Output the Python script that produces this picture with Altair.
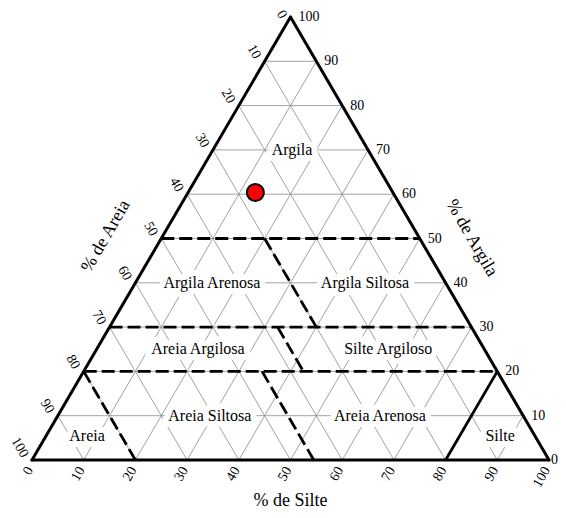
import altair as alt
import pandas as pd

# ---- data ----
GRID_STEPS = [10, 20, 30, 40, 50, 60, 70, 80, 90]
TICK_VALUES = [0, 10, 20, 30, 40, 50, 60, 70, 80, 90, 100]

# dashed class boundaries: start (silt, clay) -> end (silt, clay)
DASH_SILT_A = [0, 0, 0, 20, 32.5, 34.5, 0]
DASH_CLAY_A = [50, 30, 20, 50, 30, 20, 20]
DASH_SILT_B = [50, 70, 80, 40, 42.5, 54.5, 20]
DASH_CLAY_B = [50, 30, 20, 30, 20, 0, 0]

# solid class boundary
SOLID_SILT_A = [80]
SOLID_CLAY_A = [0]
SOLID_SILT_B = [80]
SOLID_CLAY_B = [20]

CLASS_NAMES = ["Argila", "Argila Arenosa", "Argila Siltosa", "Areia Argilosa",
               "Silte Argiloso", "Areia Siltosa", "Areia Arenosa", "Areia", "Silte"]
CLASS_SILT = [15.3, 14.8, 44.4, 19.6, 56.4, 29.4, 62.3, 7.9, 87.8]
CLASS_CLAY = [70, 40, 40, 25, 25, 10, 10, 5.5, 5.5]

SAMPLE_SILT = [13.0]
SAMPLE_CLAY = [60.4]

TITLE_SAND = "% de Areia"
TITLE_CLAY = "% de Argila"
TITLE_SILT = "% de Silte"

FONT = "Liberation Serif"


def tx(s, c):
    return s + c / 2.0


def seg_df(sa, ca, sb, cb):
    return pd.DataFrame({
        "x": [tx(s, c) for s, c in zip(sa, ca)],
        "y": list(ca),
        "x2": [tx(s, c) for s, c in zip(sb, cb)],
        "y2": list(cb),
    })


# grid segments
g_sa, g_ca, g_sb, g_cb = [], [], [], []
for k in GRID_STEPS:
    g_sa += [0, k, 100 - k]
    g_ca += [k, 0, 0]
    g_sb += [100 - k, k, 0]
    g_cb += [k, 100 - k, 100 - k]
grid_df = seg_df(g_sa, g_ca, g_sb, g_cb)

outline_df = seg_df([0, 100, 0], [0, 0, 100], [100, 0, 0], [0, 100, 0])
dash_df = seg_df(DASH_SILT_A, DASH_CLAY_A, DASH_SILT_B, DASH_CLAY_B)
solid_df = seg_df(SOLID_SILT_A, SOLID_CLAY_A, SOLID_SILT_B, SOLID_CLAY_B)

class_df = pd.DataFrame({
    "x": [tx(s, c) for s, c in zip(CLASS_SILT, CLASS_CLAY)],
    "y": CLASS_CLAY,
    "t": CLASS_NAMES,
})
sample_df = pd.DataFrame({
    "x": [tx(s, c) for s, c in zip(SAMPLE_SILT, SAMPLE_CLAY)],
    "y": SAMPLE_CLAY,
})

left_df = pd.DataFrame({
    "x": [tx(0, 100 - v) for v in TICK_VALUES],
    "y": [100 - v for v in TICK_VALUES],
    "t": [str(v) for v in TICK_VALUES],
})
bottom_df = pd.DataFrame({
    "x": [tx(v, 0) for v in TICK_VALUES],
    "y": [0 for v in TICK_VALUES],
    "t": [str(v) for v in TICK_VALUES],
})
right_df = pd.DataFrame({
    "x": [tx(100 - v, v) for v in TICK_VALUES],
    "y": TICK_VALUES,
    "t": [str(v) for v in TICK_VALUES],
})

sc = alt.Scale(domain=[0, 100], nice=False, zero=False)
X = alt.X("x:Q", scale=sc, axis=None)
Y = alt.Y("y:Q", scale=sc, axis=None)


def rules(df, **kw):
    return alt.Chart(df).mark_rule(**kw).encode(x=X, y=Y, x2="x2:Q", y2="y2:Q")


grid = rules(grid_df, color="#8a8a8a", strokeWidth=0.8)

halo = alt.Chart(class_df).mark_text(
    font=FONT, fontSize=16, fill="white", stroke="white", strokeWidth=12,
    strokeJoin="round", baseline="middle"
).encode(x=X, y=Y, text="t:N")
labels = alt.Chart(class_df).mark_text(
    font=FONT, fontSize=16, color="black", baseline="middle"
).encode(x=X, y=Y, text="t:N")

dashed = rules(dash_df, color="black", strokeWidth=2.8, strokeDash=[13, 5])
solid = rules(solid_df, color="black", strokeWidth=2.8)
outline = rules(outline_df, color="black", strokeWidth=3, strokeCap="round")

sample = alt.Chart(sample_df).mark_point(
    shape="circle", size=290, filled=True, fill="#ff0000", stroke="black",
    strokeWidth=2, opacity=1
).encode(x=X, y=Y)

left_t = alt.Chart(left_df.iloc[1:]).mark_text(
    font=FONT, fontSize=14, angle=60, align="right", baseline="middle",
    dx=-6.5, dy=4.5, color="black"
).encode(x=X, y=Y, text="t:N")
left_top = alt.Chart(left_df.iloc[:1]).mark_text(
    font=FONT, fontSize=14, angle=60, align="right", baseline="middle",
    dx=-3.0, dy=6.5, color="black"
).encode(x=X, y=Y, text="t:N")
bottom_t = alt.Chart(bottom_df).mark_text(
    font=FONT, fontSize=14, angle=300, align="right", baseline="middle",
    dx=-7.9, dy=2.3, color="black"
).encode(x=X, y=Y, text="t:N")
right_t = alt.Chart(right_df.iloc[1:]).mark_text(
    font=FONT, fontSize=14, align="left", baseline="middle", dx=8, color="black"
).encode(x=X, y=Y, text="t:N")
right_zero = alt.Chart(right_df.iloc[:1]).mark_text(
    font=FONT, fontSize=14, align="left", baseline="middle", dx=2, color="black"
).encode(x=X, y=Y, text="t:N")

titles_df = pd.DataFrame({
    "x": [tx(0, 45), tx(55, 45), tx(50, 0)],
    "y": [45, 45, 0],
    "t": [TITLE_SAND, TITLE_CLAY, TITLE_SILT],
})
t_sand = alt.Chart(titles_df.iloc[[0]]).mark_text(
    font=FONT, fontSize=18, angle=300, align="center", baseline="middle", dy=-49
).encode(x=X, y=Y, text="t:N")
t_clay = alt.Chart(titles_df.iloc[[1]]).mark_text(
    font=FONT, fontSize=18, angle=60, align="center", baseline="middle", dy=-45
).encode(x=X, y=Y, text="t:N")
t_silt = alt.Chart(titles_df.iloc[[2]]).mark_text(
    font=FONT, fontSize=18, align="center", baseline="middle", dy=41
).encode(x=X, y=Y, text="t:N")

chart = alt.layer(
    grid, halo, dashed, solid, outline, labels, sample,
    left_t, left_top, bottom_t, right_t, right_zero, t_sand, t_clay, t_silt
).properties(
    width=517, height=443,
    autosize=alt.AutoSizeParams(type="none"),
    padding={"left": 24, "top": 9, "right": 9, "bottom": 50},
    background="white",
).configure_view(strokeWidth=0)

chart.save("out.html", embed_options={"renderer": "svg", "actions": False})
